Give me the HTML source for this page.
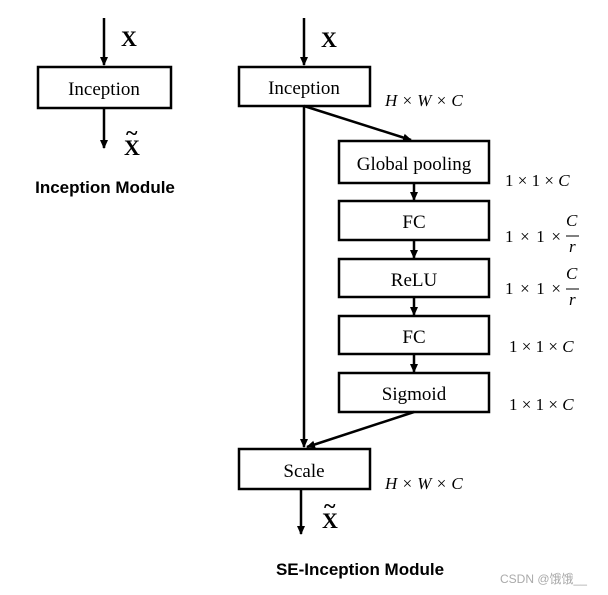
<!DOCTYPE html>
<html><head><meta charset="utf-8"><style>
html,body{margin:0;padding:0;background:#fff;}
svg{display:block;}
.t{font-family:"Liberation Serif",serif;font-size:19px;fill:#000;}
.m{font-family:"Liberation Serif",serif;font-size:17px;fill:#000;}
.i{font-style:italic;}
.b{font-family:"Liberation Serif",serif;font-weight:bold;font-size:22px;}
.s{font-family:"Liberation Sans",sans-serif;font-weight:bold;font-size:17px;}
</style></head><body>
<svg width="608" height="595" viewBox="0 0 608 595" xmlns="http://www.w3.org/2000/svg">
<defs><marker id="a" markerWidth="10" markerHeight="10" refX="8" refY="5" orient="auto" markerUnits="userSpaceOnUse"><path d="M0,1 L9,5 L0,9 Z" fill="#000"/></marker></defs>
<g stroke="#000" stroke-width="2.5" fill="none">
<line x1="104" y1="18" x2="104" y2="65" marker-end="url(#a)"/>
<line x1="104" y1="108" x2="104" y2="148" marker-end="url(#a)"/>
<rect x="38" y="67" width="133" height="41" fill="#fff"/>
<line x1="304" y1="18" x2="304" y2="65" marker-end="url(#a)"/>
<rect x="239" y="67" width="131" height="39" fill="#fff"/>
<line x1="304" y1="106" x2="304" y2="447" marker-end="url(#a)"/>
<line x1="304" y1="106" x2="411" y2="140" marker-end="url(#a)"/>
<rect x="339" y="141" width="150" height="42" fill="#fff"/>
<line x1="414" y1="183" x2="414" y2="200" marker-end="url(#a)"/>
<rect x="339" y="201" width="150" height="39" fill="#fff"/>
<line x1="414" y1="240" x2="414" y2="258" marker-end="url(#a)"/>
<rect x="339" y="259" width="150" height="38" fill="#fff"/>
<line x1="414" y1="297" x2="414" y2="315" marker-end="url(#a)"/>
<rect x="339" y="316" width="150" height="38" fill="#fff"/>
<line x1="414" y1="354" x2="414" y2="372" marker-end="url(#a)"/>
<rect x="339" y="373" width="150" height="39" fill="#fff"/>
<line x1="414" y1="412" x2="307" y2="447" marker-end="url(#a)"/>
<rect x="239" y="449" width="131" height="40" fill="#fff"/>
<line x1="301" y1="489" x2="301" y2="534" marker-end="url(#a)"/>
</g>
<text class="b" x="121" y="46">X</text>
<text class="b" x="124" y="155">X</text><text class="b" x="126" y="140" font-size="16">~</text>
<text class="t" x="104" y="95" text-anchor="middle">Inception</text>
<text class="s" x="105" y="193" text-anchor="middle">Inception Module</text>
<text class="b" x="321" y="47">X</text>
<text class="t" x="304" y="94" text-anchor="middle">Inception</text>
<text class="m i" x="385" y="106">H × W × C</text>
<text class="t" x="414" y="170" text-anchor="middle">Global pooling</text>
<text class="t" x="414" y="228" text-anchor="middle">FC</text>
<text class="t" x="414" y="286" text-anchor="middle">ReLU</text>
<text class="t" x="414" y="343" text-anchor="middle">FC</text>
<text class="t" x="414" y="400" text-anchor="middle">Sigmoid</text>
<text class="t" x="304" y="477" text-anchor="middle">Scale</text>
<text class="m i" x="385" y="489">H × W × C</text>
<text class="m" x="505" y="186">1 × 1 × <tspan class="i">C</tspan></text>
<text class="m" x="505" y="242" textLength="56">1 × 1 ×</text>
<text class="m i" x="566" y="226">C</text><line x1="566" y1="236" x2="579" y2="236" stroke="#000" stroke-width="1"/><text class="m i" x="569" y="252">r</text>
<text class="m" x="505" y="294" textLength="56">1 × 1 ×</text>
<text class="m i" x="566" y="279">C</text><line x1="566" y1="289" x2="579" y2="289" stroke="#000" stroke-width="1"/><text class="m i" x="569" y="305">r</text>
<text class="m" x="509" y="352">1 × 1 × <tspan class="i">C</tspan></text>
<text class="m" x="509" y="410">1 × 1 × <tspan class="i">C</tspan></text>
<text class="b" x="322" y="528">X</text><text class="b" x="324" y="513" font-size="16">~</text>
<text class="s" x="360" y="575" text-anchor="middle">SE-Inception Module</text>
<text x="500" y="583" font-family="Liberation Sans,'Noto Sans CJK SC',sans-serif" font-size="12" fill="#aaa">CSDN @饿饿__</text>
</svg>
</body></html>
